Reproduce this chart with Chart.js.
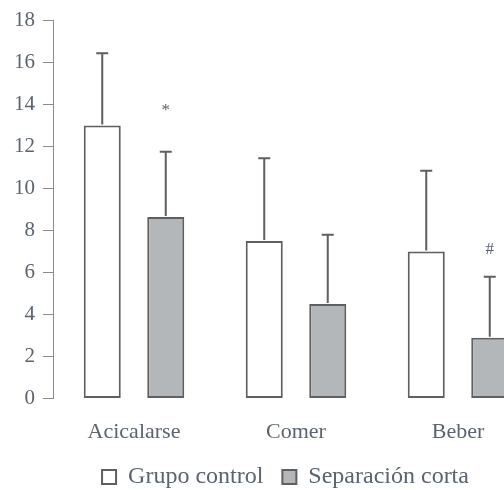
<!DOCTYPE html>
<html lang="es">
<head>
<meta charset="UTF-8">
<title>Conductas</title>
<style>
  html, body { margin: 0; padding: 0; background: #fff; overflow: hidden; }
  #wrap { width: 570px; height: 489px; }
</style>
</head>
<body>
<div id="wrap"><canvas id="myChart"></canvas></div>
<script src="https://cdn.jsdelivr.net/npm/chart.js"></script>
<script>
// datos
const categories = ['Acicalarse', 'Comer', 'Beber'];
const controlMeans = [13.0, 7.5, 7.0];
const controlSD = [3.45, 3.95, 3.85];
const cortaMeans = [8.65, 4.5, 2.9];
const cortaSD = [3.1, 3.3, 2.9];
// marcas de significacion sobre "Separación corta"
const sigMarks = ['*', '', '#'];
const sigLevels = [13.7, null, 7.1];
const yTicks = [0, 2, 4, 6, 8, 10, 12, 14, 16, 18];

const textColor = '#5a6370';
const lineColor = '#5f5f5f';
const font = "'Liberation Serif', 'DejaVu Serif', serif";

const errorBars = {
  id: 'errorBars',
  afterLayout(chart) {
    // la leyenda del original esta algo desplazada a la derecha
    chart.legend.left += 13;
    chart.legend.right += 13;
  },
  afterDatasetsDraw(chart) {
    const ctx = chart.ctx;
    const y = chart.scales.y;
    const sds = [controlSD, cortaSD];
    ctx.save();
    ctx.strokeStyle = lineColor;
    ctx.lineWidth = 2;
    chart.data.datasets.forEach((ds, di) => {
      const meta = chart.getDatasetMeta(di);
      meta.data.forEach((bar, i) => {
        const top = y.getPixelForValue(ds.data[i] + sds[di][i]);
        ctx.beginPath();
        ctx.moveTo(bar.x, bar.y - 1);
        ctx.lineTo(bar.x, top);
        ctx.moveTo(bar.x - 6, top);
        ctx.lineTo(bar.x + 6, top);
        ctx.stroke();
      });
    });
    // marcas
    const meta = chart.getDatasetMeta(1);
    ctx.fillStyle = textColor;
    ctx.font = "17px " + font;
    ctx.textAlign = 'center';
    ctx.textBaseline = 'middle';
    meta.data.forEach((bar, i) => {
      if (sigMarks[i]) ctx.fillText(sigMarks[i], bar.x, y.getPixelForValue(sigLevels[i]));
    });
    ctx.restore();
  }
};

new Chart(document.getElementById('myChart'), {
  type: 'bar',
  data: {
    labels: categories,
    datasets: [{
      label: 'Grupo control',
      data: controlMeans,
      backgroundColor: '#ffffff',
      borderColor: lineColor,
      borderWidth: 2,
      borderSkipped: false
    }, {
      label: 'Separación corta',
      data: cortaMeans,
      backgroundColor: '#b3b7b9',
      borderColor: lineColor,
      borderWidth: 2,
      borderSkipped: false
    }]
  },
  options: {
    responsive: true,
    maintainAspectRatio: false,
    animation: false,
    datasets: { bar: { categoryPercentage: 0.784, barPercentage: 0.583 } },
    layout: { padding: { top: 10, right: 31, left: 6, bottom: -10 } },
    plugins: {
      legend: {
        position: 'bottom',
        labels: {
          color: textColor,
          font: { family: font, size: 24 },
          boxWidth: 14,
          boxHeight: 14,
          padding: 19,
          useBorderRadius: false
        }
      },
      tooltip: { enabled: false }
    },
    scales: {
      x: {
        afterFit: (scale) => { scale.height -= 11; },
        grid: { display: false },
        border: { display: false },
        ticks: { color: textColor, font: { family: font, size: 22 }, padding: 12 }
      },
      y: {
        min: 0,
        max: 18,
        afterBuildTicks: (axis) => { axis.ticks = yTicks.map(v => ({ value: v })); },
        grid: { drawOnChartArea: false, drawTicks: true, tickLength: 10, color: '#8a8a8a' },
        border: { display: true, color: '#8a8a8a', width: 1 },
        ticks: { color: textColor, font: { family: font, size: 21 }, padding: 8 }
      }
    }
  },
  plugins: [errorBars]
});
</script>
</body>
</html>
